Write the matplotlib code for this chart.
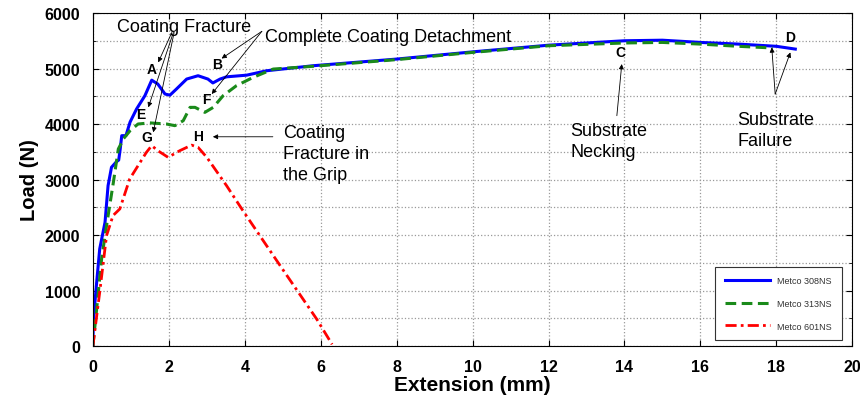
import matplotlib
matplotlib.use("Agg")
import matplotlib.pyplot as plt
from matplotlib.ticker import MultipleLocator

# Metco 308NS (blue, solid)
x_308 = [0, 0.01, 0.1, 0.18, 0.32, 0.4, 0.49, 0.62, 0.68, 0.72, 0.76, 0.87, 0.98, 1.15, 1.37, 1.55,
         1.71, 1.9, 2.03, 2.2, 2.47, 2.77, 3.03, 3.16, 3.35, 3.52, 4.05, 4.58, 5.8, 8, 10, 12, 14, 15,
         16, 17, 18, 18.5]
y_308 = [0, 430, 1150, 1750, 2230, 2890, 3220, 3320, 3350, 3550, 3790, 3790, 4035, 4270, 4510, 4790,
         4720, 4540, 4520, 4630, 4810, 4870, 4810, 4740, 4810, 4850, 4880, 4960, 5050, 5170, 5300, 5420,
         5500, 5510, 5470, 5440, 5400, 5350]

# Metco 313NS (green, dashed)
x_313 = [0, 0.1, 0.23, 0.36, 0.54, 0.67, 0.76, 0.8, 0.98, 1.19, 1.5, 1.94, 2.16, 2.38, 2.56, 2.69,
         2.95, 3.17, 3.43, 3.78, 4.22, 4.75, 5.8, 8, 10, 12, 14, 15, 16, 17, 17.9]
y_313 = [0, 670, 1570, 2170, 2950, 3550, 3670, 3730, 3880, 4000, 4020, 4000, 3970, 4060, 4300, 4300,
         4210, 4300, 4510, 4690, 4840, 4990, 5040, 5160, 5290, 5410, 5460, 5470, 5440, 5400, 5370]

# Metco 601NS (red, dash-dot)
x_601 = [0, 0.18, 0.36, 0.53, 0.71, 0.97, 1.41, 1.55, 1.71, 1.98, 2.29, 2.6, 2.77, 3.0, 3.52, 3.95,
         4.93, 5.89, 6.3]
y_601 = [0, 970, 1990, 2350, 2470, 3010, 3490, 3610, 3520, 3400, 3520, 3620, 3580, 3400, 2890, 2440,
         1450, 490, 30]

x_ticks = [0, 2, 4, 6, 8, 10, 12, 14, 16, 18, 20]
y_ticks = [0, 1000, 2000, 3000, 4000, 5000, 6000]

plt.rcParams['font.family'] = ['Liberation Sans', 'DejaVu Sans']

fig = plt.figure(figsize=(8.6, 4.06), dpi=100)
ax = fig.add_axes([0.108, 0.1453, 0.883, 0.8202])

ax.plot(x_308, y_308, color="#0000ff", lw=2.2, label="Metco 308NS")
ax.plot(x_313, y_313, color="#1a8a1a", lw=2.2, ls=(0, (3.5, 1.8)), label="Metco 313NS")
ax.plot(x_601, y_601, color="#ff0000", lw=2.0, ls=(0, (4, 1.5, 1, 1.5)), label="Metco 601NS")

ax.set_xlim(0, 20)
ax.set_ylim(0, 6000)
ax.set_xticks(x_ticks)
ax.set_yticks(y_ticks)
ax.yaxis.set_minor_locator(MultipleLocator(500))
ax.grid(True, which="major", axis="x", ls=":", color="#999999", lw=0.9)
ax.grid(True, which="both", axis="y", ls=":", color="#999999", lw=0.9)
ax.tick_params(which="both", direction="in", top=True, right=True)
ax.tick_params(which="major", length=4)
ax.tick_params(which="minor", length=2)
ax.tick_params(axis="x", pad=9)
ax.tick_params(axis="y", pad=9)
for lab in ax.get_xticklabels() + ax.get_yticklabels():
    lab.set_fontweight("bold")
    lab.set_fontsize(11.5)

ax.set_xlabel("Extension (mm)", fontsize=15, fontweight="bold", labelpad=1)
ax.set_ylabel("Load (N)", fontsize=14.5, fontweight="bold", labelpad=4)

leg = ax.legend(loc="lower right", bbox_to_anchor=(0.992, 0.003), fontsize=6.5, handlelength=5,
                labelspacing=1.5, borderpad=1.1, fancybox=False, edgecolor="#333333",
                framealpha=1)
leg.get_frame().set_linewidth(0.8)
for t in leg.get_texts():
    t.set_color("#333333")

# annotation texts
txt = dict(fontsize=13, color="black")
ax.text(0.63, 5750, "Coating Fracture", ha="left", va="center", **txt)
ax.text(4.53, 5580, "Complete Coating Detachment", ha="left", va="center", **txt)
ax.text(5.0, 4000, "Coating\nFracture in\nthe Grip", ha="left", va="top", linespacing=1.3, **txt)
ax.text(12.57, 4040, "Substrate\nNecking", ha="left", va="top", linespacing=1.3, **txt)
ax.text(16.97, 4240, "Substrate\nFailure", ha="left", va="top", linespacing=1.3, **txt)

# point letters
letters = ["A", "B", "E", "F", "G", "H", "C", "D"]
letter_x = [1.55, 3.26, 1.27, 2.98, 1.41, 2.78, 13.89, 18.37]
letter_y = [4990, 5080, 4180, 4450, 3760, 3790, 5300, 5570]
for s, lx, ly in zip(letters, letter_x, letter_y):
    ax.text(lx, ly, s, ha="center", va="center", fontsize=10, fontweight="bold")

arrow = dict(arrowstyle="-|>", color="black", lw=0.6, mutation_scale=7, shrinkA=0, shrinkB=0)
arrows = [
    ((2.08, 5650), (1.72, 5110)),
    ((2.12, 5650), (1.46, 4300)),
    ((2.14, 5650), (1.59, 3850)),
    ((4.45, 5670), (3.39, 5180)),
    ((4.45, 5670), (3.13, 4540)),
    ((4.74, 3770), (3.16, 3770)),
    ((13.8, 4150), (13.93, 5080)),
    ((17.97, 4540), (17.88, 5380)),
    ((17.97, 4540), (18.37, 5290)),
]
for start, end in arrows:
    ax.annotate("", xy=end, xytext=start, arrowprops=arrow)

fig.savefig("out.png", dpi=100)
